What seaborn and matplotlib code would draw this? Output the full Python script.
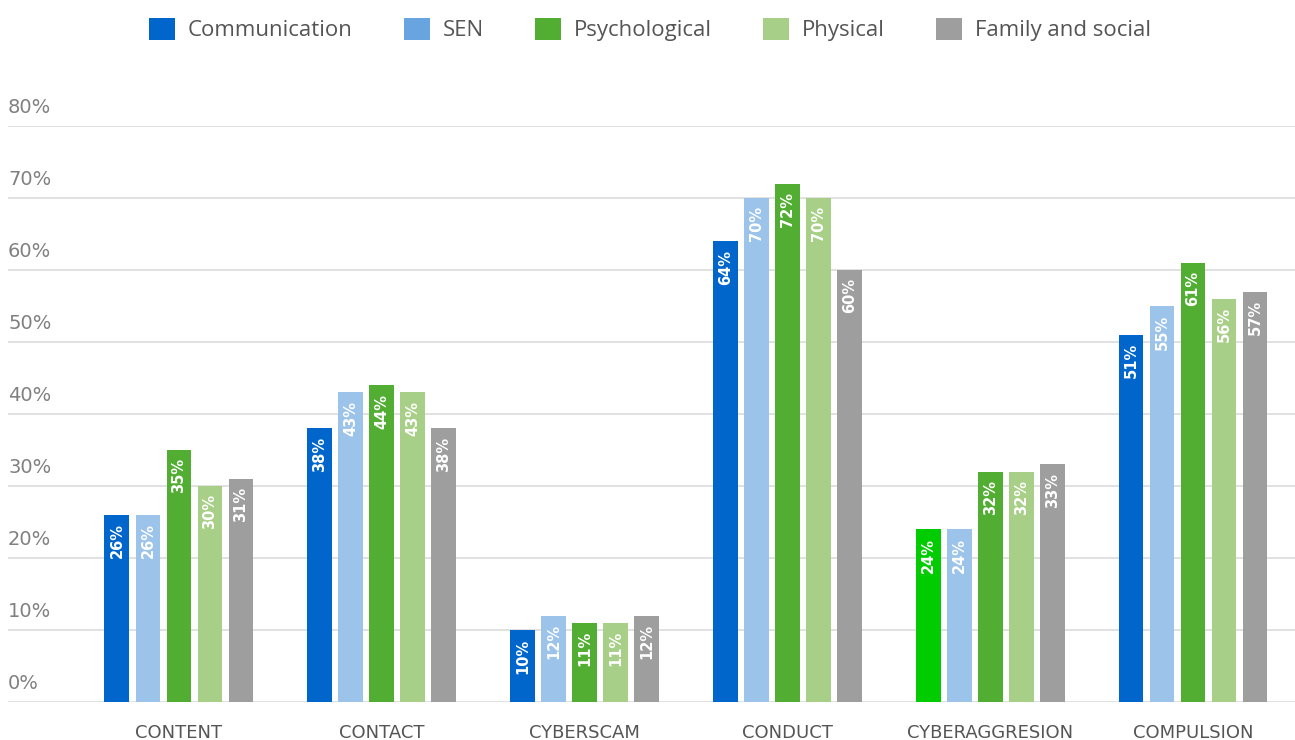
import matplotlib
matplotlib.use("Agg")
import matplotlib.pyplot as plt
import matplotlib.patches as mpatches
import matplotlib.transforms as mtransforms
import seaborn as sns
import pandas as pd
import numpy as np

categories = ["CONTENT", "CONTACT", "CYBERSCAM", "CONDUCT", "CYBERAGGRESION", "COMPULSION"]
groups = ["Communication", "SEN", "Psychological", "Physical", "Family and social"]
communication = [26, 38, 10, 64, 24, 51]
sen = [26, 43, 12, 70, 24, 55]
psychological = [35, 44, 11, 72, 32, 61]
physical = [30, 43, 11, 70, 32, 56]
family_social = [31, 38, 12, 60, 33, 57]
yticks = [0, 10, 20, 30, 40, 50, 60, 70, 80]

bar_colors = ["#0066cc", "#9cc3ea", "#52ad33", "#a8cf87", "#9e9e9e"]
legend_colors = ["#0066cc", "#68a4e0", "#52ad33", "#a8cf87", "#9e9e9e"]
odd_bar_color = "#00cc00"  # CYBERAGGRESION / Communication bar in the original

series = [communication, sen, psychological, physical, family_social]
rows = []
for g, vals in zip(groups, series):
    for c, v in zip(categories, vals):
        rows.append({"category": c, "group": g, "value": v})
df = pd.DataFrame(rows)

sns.set_style("white")
plt.rcParams["font.family"] = ["DejaVu Sans"]

fig = plt.figure(figsize=(12.95, 7.4), dpi=100)
ax = fig.add_axes([8 / 1295, 38 / 740, 1287 / 1295, 576 / 740])

sns.barplot(data=df, x="category", y="value", hue="group", order=categories,
            hue_order=groups, palette=bar_colors, width=0.765, gap=0.2,
            saturation=1, legend=False, linewidth=0, ax=ax)

# one bar in the original is a different green
ax.containers[0].patches[categories.index("CYBERAGGRESION")].set_facecolor(odd_bar_color)

for cont in ax.containers:
    for p in cont.patches:
        p.set_linewidth(0)
        h = p.get_height()
        ax.annotate(f"{h:.0f}%", (p.get_x() + p.get_width() / 2, h),
                    xytext=(0, -6), textcoords="offset points",
                    ha="center", va="top", rotation=90, color="white",
                    fontsize=10.5, fontweight="bold")

ax.set_ylim(0, 80)
ax.set_xlim(-0.843, 5.503)
ax.set_yticks(yticks)
ax.set_yticklabels([])
ax.tick_params(axis="y", length=0)
ax.yaxis.grid(True, color="#dcdcdc", linewidth=1.2)
ax.set_axisbelow(True)
sns.despine(ax=ax, left=True, bottom=True, top=True, right=True)

trans = mtransforms.blended_transform_factory(ax.transAxes, ax.transData)
for t in yticks:
    ax.text(0, t + 1.3, f"{t}%", transform=trans, ha="left", va="bottom",
            fontsize=14, color="#808080", clip_on=False)

ax.tick_params(axis="x", length=0, pad=16, labelsize=13, labelcolor="#555555")
ax.set_xlabel("")
ax.set_ylabel("")

handles = [mpatches.Patch(facecolor=c, edgecolor="none", label=g)
           for g, c in zip(groups, legend_colors)]
leg = fig.legend(handles=handles, loc="center", bbox_to_anchor=(0.502, 0.96),
                 ncol=5, frameon=False, handlelength=1.15, handleheight=1.15,
                 handletextpad=0.6, columnspacing=2.3,
                 prop={"family": "Open Sans", "size": 16})
for txt in leg.get_texts():
    txt.set_color("#555555")

fig.savefig("out.png", dpi=100)
